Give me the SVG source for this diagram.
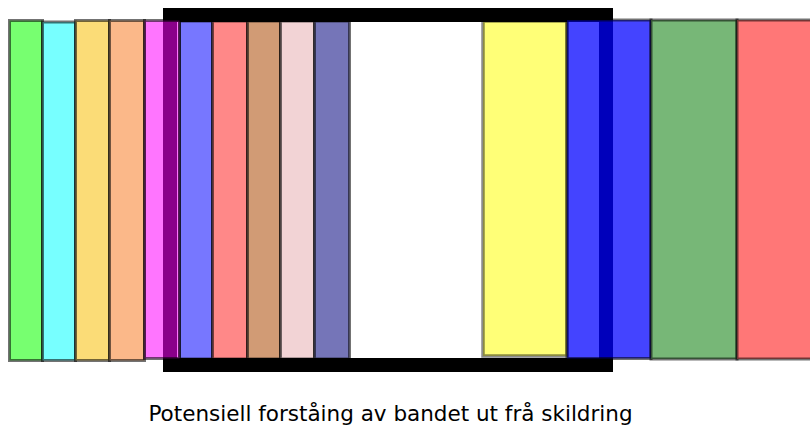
<svg xmlns="http://www.w3.org/2000/svg" width="810" height="425" viewBox="0 0 810 425">
<style>
.s{stroke:#000;stroke-opacity:0.55;stroke-width:3}
.l{stroke:#000;stroke-opacity:0.45;stroke-width:3.5}
.t{font-family:"DejaVu Sans",sans-serif;font-size:21.5px;fill:#000}
</style>
<rect width="810" height="425" fill="#fff"/>
<g id="stripes-inner">
<rect class="s" x="179.5" y="21" width="33" height="338" fill="#7777ff"/>
<rect class="s" x="212.5" y="21" width="35" height="338" fill="#ff8888"/>
<rect class="s" x="247.5" y="21" width="33" height="338" fill="#d19b75"/>
<rect class="s" x="280.5" y="21" width="34" height="338" fill="#f2d3d5"/>
<rect class="s" x="314.5" y="21" width="35" height="338" fill="#7575b8"/>
<rect class="l" x="483" y="21" width="84" height="335" fill="#ffff77"/>
</g>
<g id="frame">
<rect x="170" y="15" width="436" height="350" fill="none" stroke="#000" stroke-width="14"/>
</g>
<g id="stripes-outer">
<rect class="s" x="9.5" y="20.5" width="33" height="340" fill="#77ff70"/>
<rect class="s" x="42.5" y="22" width="33" height="338.5" fill="#77ffff"/>
<rect class="s" x="75.5" y="20.5" width="34" height="340" fill="#fbdc77"/>
<rect class="s" x="109.5" y="20.5" width="35" height="340" fill="#fbb889"/>
<rect class="s" x="144.5" y="20.5" width="35" height="338" fill="#ff00ff" fill-opacity="0.54"/>
<rect class="s" x="567" y="20" width="84" height="338.5" fill="#0000ff" fill-opacity="0.733"/>
<rect class="s" x="651" y="20" width="86" height="339" fill="#77b777"/>
<rect class="s" x="737" y="20" width="76" height="339" fill="#ff7777"/>
</g>
<text class="t" x="390.5" y="421" text-anchor="middle">Potensiell forståing av bandet ut frå skildring</text>
</svg>
